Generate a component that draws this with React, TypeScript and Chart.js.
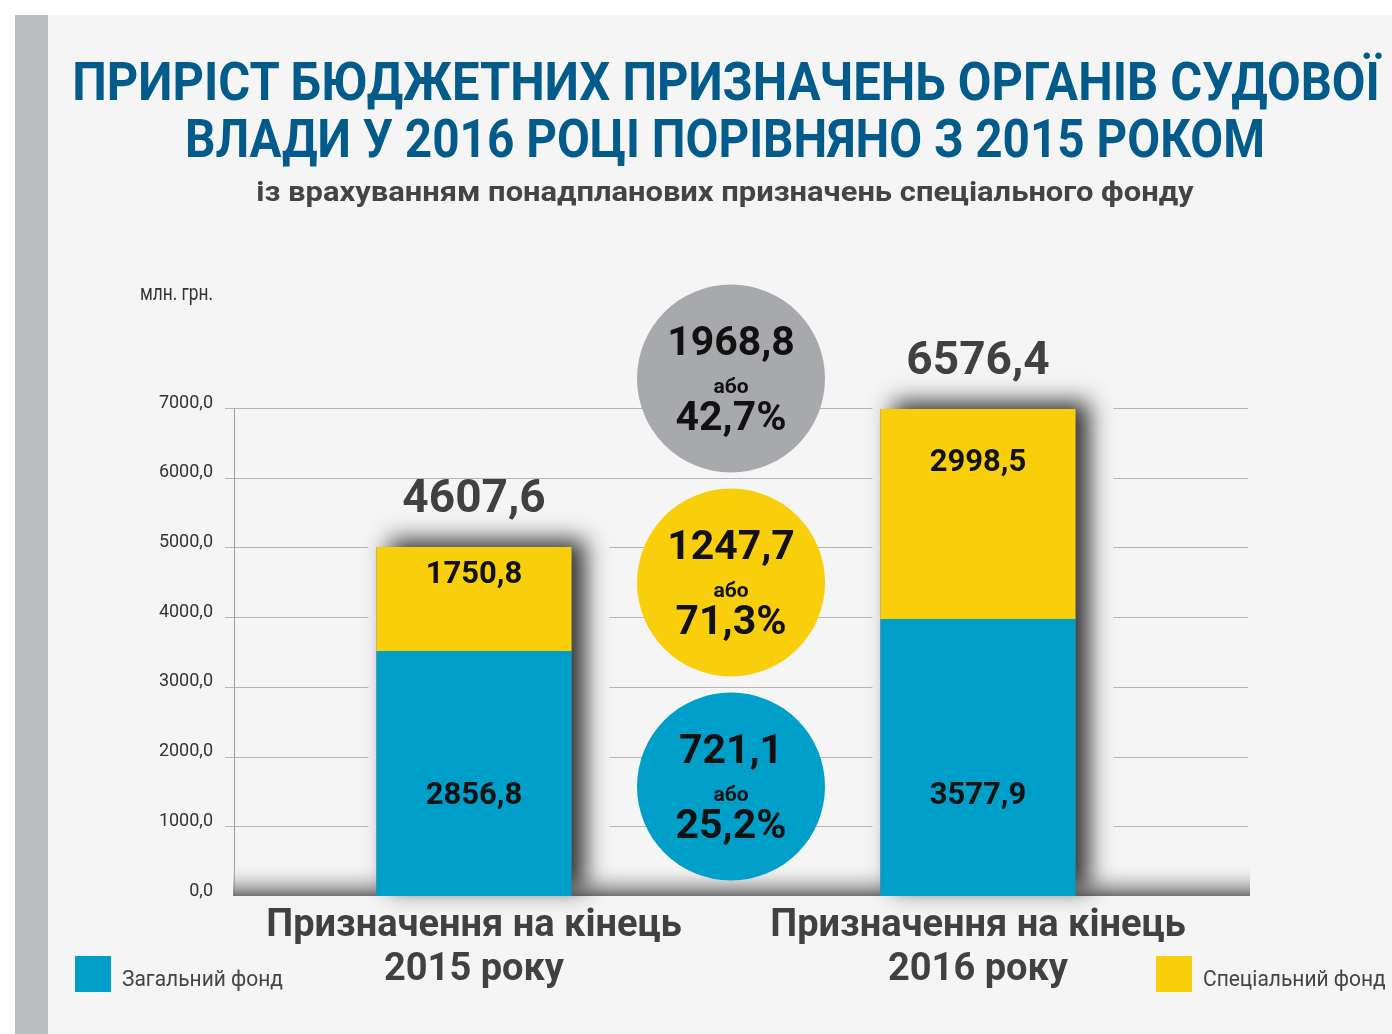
import React, { useEffect, useLayoutEffect, useRef, useState } from 'react';
import { Chart, registerables } from 'chart.js';

Chart.register(...registerables);

// ---------- data ----------
const categories = [
  ['Призначення на кінець', '2015 року'],
  ['Призначення на кінець', '2016 року'],
];
const seriesNames = ['Загальний фонд', 'Спеціальний фонд'];
// bar heights as they are drawn against the axis in the picture (млн. грн.)
const generalFundDrawn = [3515, 3974];
const specialFundDrawn = [1492, 3012];
// values printed on the picture
const generalFundLabels = [2856.8, 3577.9];
const specialFundLabels = [1750.8, 2998.5];
const totalLabels = [4607.6, 6576.4];
// growth 2016 vs 2015: total, special fund, general fund
const growthAmounts = [1968.8, 1247.7, 721.1];
const growthPercents = [42.7, 71.3, 25.2];
const yMin = 0;
const yMax = 7000;
const yStep = 1000;

const titleLines = [
  'ПРИРІСТ БЮДЖЕТНИХ ПРИЗНАЧЕНЬ ОРГАНІВ СУДОВОЇ',
  'ВЛАДИ У 2016 РОЦІ ПОРІВНЯНО З 2015 РОКОМ',
];
const subtitle = 'із врахуванням понадпланових призначень спеціального фонду';
const unitLabel = 'млн. грн.';
const orLabel = 'або';

// ---------- style ----------
const BG = '#f5f5f5';
const BLUE = '#009fc9';
const YELLOW = '#f9cf0c';
const GREY = '#a7a9ac';
const DARK = '#414143';
const FONT = 'Roboto, sans-serif';

const fmt = (v: number) => v.toFixed(1).replace('.', ',');

const decorPlugin = {
  id: 'decor',
  beforeDatasetsDraw(chart: any) {
    const { ctx, chartArea: a, scales } = chart;
    const y = scales.y;
    const axisX = a.left + 12;
    const gridL = axisX - 9;
    const gridR = a.right + 18;
    const floorH = 32;
    const m0 = chart.getDatasetMeta(0);
    const m1 = chart.getDatasetMeta(1);
    ctx.save();
    // grid lines
    ctx.strokeStyle = '#b5b5b5';
    ctx.lineWidth = 1;
    y.ticks.forEach((t: any) => {
      if (t.value === yMin) return;
      const py = Math.round(y.getPixelForValue(t.value)) + 0.5;
      ctx.beginPath();
      ctx.moveTo(gridL, py);
      ctx.lineTo(gridR, py);
      ctx.stroke();
    });
    // background blocks behind bars
    m0.data.forEach((b0: any, i: number) => {
      const b1 = m1.data[i];
      const left = b0.x - b0.width / 2;
      ctx.fillStyle = BG;
      ctx.fillRect(left - 8, b1.y - 14, b0.width + 46, a.bottom - (b1.y - 14));
    });
    // vertical axis line
    ctx.strokeStyle = '#9d9d9d';
    ctx.beginPath();
    ctx.moveTo(axisX + 0.5, a.top);
    ctx.lineTo(axisX + 0.5, a.bottom);
    ctx.stroke();
    // floor gradient
    const g = ctx.createLinearGradient(0, a.bottom - floorH, 0, a.bottom);
    g.addColorStop(0, 'rgba(245,245,245,0)');
    g.addColorStop(1, '#6f6f71');
    ctx.fillStyle = g;
    ctx.fillRect(axisX - 1, a.bottom - floorH, gridR + 2 - (axisX - 1), floorH);
    // bar shadows
    m0.data.forEach((b0: any, i: number) => {
      const b1 = m1.data[i];
      const left = b0.x - b0.width / 2;
      ctx.save();
      ctx.shadowColor = 'rgba(0,0,0,0.8)';
      ctx.shadowBlur = 22;
      ctx.shadowOffsetX = 13;
      ctx.shadowOffsetY = -7;
      ctx.fillStyle = '#666';
      ctx.fillRect(left, b1.y, b0.width, b0.base - b1.y);
      ctx.restore();
    });
    ctx.restore();
  },
  afterDatasetsDraw(chart: any) {
    const { ctx, chartArea: a } = chart;
    const m0 = chart.getDatasetMeta(0);
    const m1 = chart.getDatasetMeta(1);
    const plotH = a.bottom - a.top;
    ctx.save();
    ctx.textAlign = 'center';
    ctx.textBaseline = 'alphabetic';
    m0.data.forEach((b0: any, i: number) => {
      const b1 = m1.data[i];
      ctx.fillStyle = '#111';
      ctx.font = `bold 31px ${FONT}`;
      const ySpecial = b1.y + 0.245 * (b1.base - b1.y);
      ctx.fillText(fmt(specialFundLabels[i]), b1.x, ySpecial + 0.355 * 31);
      const yGeneral = b0.base - 0.211 * plotH;
      ctx.fillText(fmt(generalFundLabels[i]), b0.x, yGeneral + 0.355 * 31);
      ctx.fillStyle = DARK;
      ctx.font = `bold 46px ${FONT}`;
      ctx.fillText(fmt(totalLabels[i]), b1.x, b1.y - 51 + 0.355 * 46);
    });
    // growth circles
    const cx = (m0.data[0].x + m0.data[1].x) / 2 + 5;
    const r = 94;
    const step = 204;
    const colors = [GREY, YELLOW, BLUE];
    const bottomCy = a.bottom - 109.5;
    growthAmounts.forEach((amt, k) => {
      const cy = bottomCy - (growthAmounts.length - 1 - k) * step;
      ctx.fillStyle = colors[k];
      ctx.beginPath();
      ctx.arc(cx, cy, r, 0, Math.PI * 2);
      ctx.fill();
      ctx.fillStyle = '#111';
      ctx.font = `bold 41px ${FONT}`;
      ctx.fillText(fmt(amt), cx, cy - 38 + 0.355 * 41);
      ctx.font = `bold 21px ${FONT}`;
      ctx.fillText(orLabel, cx, cy + 14);
      ctx.font = `bold 41px ${FONT}`;
      ctx.fillText(fmt(growthPercents[k]) + '%', cx, cy + 37 + 0.355 * 41);
    });
    ctx.restore();
  },
};

function FitText(props: {
  x: number;
  baseline: number;
  width: number;
  size: number;
  weight?: number;
  color: string;
  align?: 'center' | 'left';
  children: string;
}) {
  const { x, baseline, width, size, weight = 400, color, align = 'center', children } = props;
  const ref = useRef<HTMLSpanElement>(null);
  const [k, setK] = useState(1);
  useLayoutEffect(() => {
    if (ref.current) {
      const w = ref.current.offsetWidth;
      if (w > 0) setK(width / w);
    }
  }, [width, size, children]);
  const top = baseline - 0.842 * size;
  return (
    <span
      ref={ref}
      style={{
        position: 'absolute',
        left: x,
        top,
        fontFamily: FONT,
        fontSize: size,
        fontWeight: weight,
        color,
        lineHeight: `${size}px`,
        whiteSpace: 'nowrap',
        transform: align === 'center' ? `translateX(-50%) scaleX(${k})` : `scaleX(${k})`,
        transformOrigin: align === 'center' ? '50% 50%' : '0 50%',
      }}
    >
      {children}
    </span>
  );
}

export default function App() {
  const canvasRef = useRef<HTMLCanvasElement>(null);

  useEffect(() => {
    if (!canvasRef.current) return;
    const chart = new Chart(canvasRef.current, {
      type: 'bar',
      data: {
        labels: categories,
        datasets: [
          {
            label: seriesNames[0],
            data: generalFundDrawn,
            backgroundColor: BLUE,
            borderWidth: 0,
            barPercentage: 0.387,
            categoryPercentage: 1,
          },
          {
            label: seriesNames[1],
            data: specialFundDrawn,
            backgroundColor: YELLOW,
            borderWidth: 0,
            barPercentage: 0.387,
            categoryPercentage: 1,
          },
        ],
      },
      options: {
        responsive: false,
        animation: false,
        devicePixelRatio: 1,
        layout: { padding: { left: 0, right: 162, top: 408, bottom: 0 } },
        plugins: {
          legend: { display: false },
          tooltip: { enabled: false },
          title: { display: false },
        },
        scales: {
          x: {
            stacked: true,
            grid: { display: false, drawTicks: false },
            border: { display: false },
            ticks: {
              color: DARK,
              font: { family: FONT, size: 38, weight: 'bold', lineHeight: 1.16 },
              padding: 8,
              maxRotation: 0,
              autoSkip: false,
            },
            afterFit: (s: any) => {
              s.height = 138;
            },
          },
          y: {
            stacked: true,
            min: yMin,
            max: yMax,
            grid: { display: false, drawTicks: false },
            border: { display: false },
            ticks: {
              stepSize: yStep,
              color: '#333',
              font: { family: FONT, size: 18 },
              padding: 9,
              labelOffset: -5,
              callback: (v: any) => fmt(Number(v)),
            },
            afterFit: (s: any) => {
              s.width = 222;
            },
          },
        },
      },
      plugins: [decorPlugin],
    });
    return () => chart.destroy();
  }, []);

  return (
    <div
      style={{
        position: 'fixed',
        left: 0,
        top: 0,
        width: 1392,
        height: 1034,
        background: '#ffffff',
        overflow: 'hidden',
      }}
    >
      <div style={{ position: 'absolute', left: 15, top: 15, right: 0, bottom: 0, background: BG }} />
      <div style={{ position: 'absolute', left: 15, top: 15, width: 33, bottom: 0, background: '#bcbdc0' }} />
      <canvas
        ref={canvasRef}
        width={1392}
        height={1034}
        style={{ position: 'absolute', left: 0, top: 0 }}
      />
      <FitText x={726} baseline={100.5} width={1308} size={53} weight={700} color="#035b8c">
        {titleLines[0]}
      </FitText>
      <FitText x={725} baseline={157.5} width={1080} size={53} weight={700} color="#035b8c">
        {titleLines[1]}
      </FitText>
      <FitText x={724.5} baseline={202} width={937} size={28} weight={700} color="#444446">
        {subtitle}
      </FitText>
      <FitText x={140} baseline={301} width={73} size={22} color="#333" align="left">
        {unitLabel}
      </FitText>
      <div style={{ position: 'absolute', left: 75, top: 956, width: 36, height: 36, background: BLUE }} />
      <FitText x={122} baseline={987} width={161} size={22} color="#444446" align="left">
        {seriesNames[0]}
      </FitText>
      <div style={{ position: 'absolute', left: 1156, top: 956, width: 36, height: 36, background: YELLOW }} />
      <FitText x={1203} baseline={987} width={183} size={22} color="#444446" align="left">
        {seriesNames[1]}
      </FitText>
    </div>
  );
}
